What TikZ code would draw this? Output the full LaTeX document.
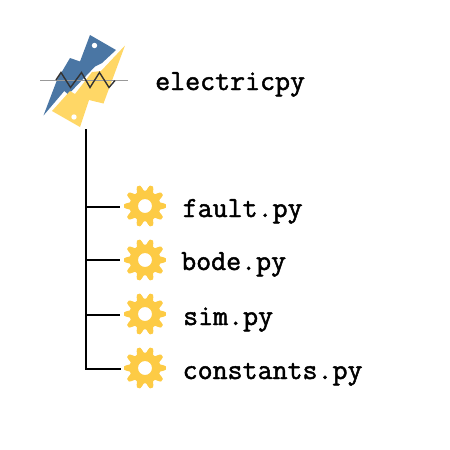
\documentclass[tikz,border=0pt]{standalone}
\usepackage{fontspec}
\newfontfamily\codefont[FakeBold=1.6]{Latin Modern Mono}
\tikzset{
  x=1pt,y=-1pt,
  tree/.style={line width=2pt,black},
  label/.style={anchor=base west,inner sep=0pt,font=\fontsize{29.1}{29.1}\codefont},
  gearshape/.style={fill=gearcol,even odd rule},
}
\definecolor{gearcol}{HTML}{FDCB45}
\definecolor{blueb}{HTML}{4A76A4}
\definecolor{yellowb}{HTML}{FFD766}
\newcommand{\gearat}[1]{%
  \fill[gearshape,shift={(#1)}] plot[smooth,domain=0:360,samples=181,variable=\t]
    ({(18.2+2.8*max(-1,min(1,1.4*sin(10*\t+90))))*cos(\t)},{(18.2+2.8*max(-1,min(1,1.4*sin(10*\t+90))))*sin(\t)}) -- cycle
    (0,0) circle[radius=7];}
\begin{document}
\begin{tikzpicture}
\useasboundingbox (0,0) rectangle (450,450);
% logo
\fill[blueb] (90,35) -- (116,50) -- (102,63) -- (95,66.5) -- (86,76) -- (68.3,94.5) -- (64.3,91) -- (43.5,115.5) -- (57,80) -- (70,58) -- (80,61.5) -- cycle;
\fill[white] (94.5,45.5) circle[radius=2.7];
\fill[yellowb] (125,45.5) -- (103.5,103.5) -- (89,100) -- (80,127) -- (52,111) -- (70,91) -- (75,94) -- (92,72) -- (101,71) -- cycle;
\fill[white] (74,117) circle[radius=2.7];
\draw[gray!80,line width=1pt] (40,80) -- (128,80);
\draw[black!80,line width=1.4pt] (56,80) -- (61,72.5) -- (70.5,87.5) -- (81.5,72.5) -- (90,87.5) -- (99.5,72.5) -- (109,87.5) -- (115,80.5);
\node[label] (root) at (155,90) {electricpy};
% gears
\coordinate (g1) at (145,206);
\coordinate (g2) at (145,260);
\coordinate (g3) at (145,314);
\coordinate (g4) at (145,368);
\gearat{g1}\gearat{g2}\gearat{g3}\gearat{g4}
\node[label] (n1) at (182.5,217) {fault.py};
\node[label] (n2) at (181,270) {bode.py};
\node[label] (n3) at (183,325) {sim.py};
\node[label] (n4) at (182.5,379) {constants.py};
% tree
\coordinate (top) at (86,130);
\coordinate (t1) at (86,207);
\coordinate (t2) at (86,260);
\coordinate (t3) at (86,315);
\coordinate (t4) at (86,369);
\coordinate (e1) at (120,207);
\coordinate (e2) at (120,260);
\coordinate (e3) at (120,315);
\coordinate (e4) at (120,369);
\draw[tree,line cap=rect] (top) -- (t4) -- (e4);
\draw[tree] (t1) -- (e1);
\draw[tree] (t2) -- (e2);
\draw[tree] (t3) -- (e3);
\end{tikzpicture}
\end{document}
